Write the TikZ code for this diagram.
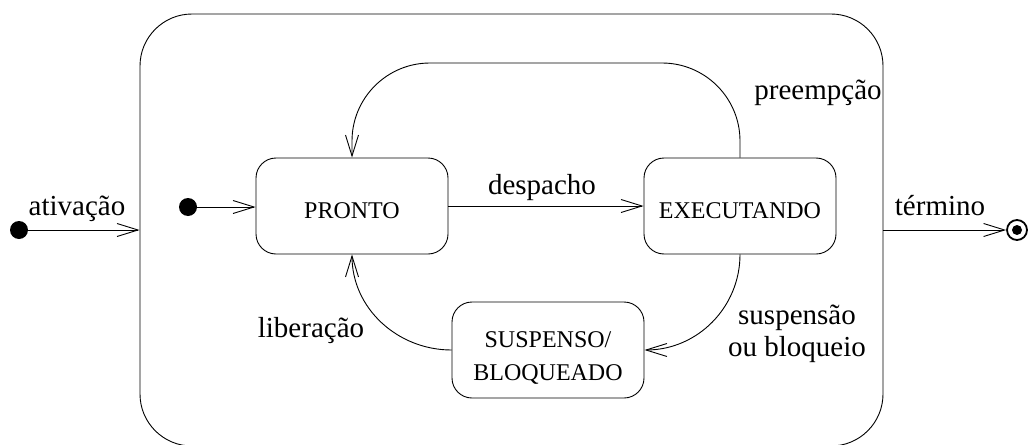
\documentclass[tikz,border=0pt]{standalone}
\usepackage{fontspec}
\setmainfont{Liberation Serif}
\usetikzlibrary{arrows.meta}
\begin{document}
\begin{tikzpicture}[x=1pt,y=-1pt,
  line width=0.9pt,
  state/.style={draw, rounded corners=20pt, minimum width=192pt, minimum height=96pt,
    inner sep=0pt, text height=24pt, text depth=0pt, font=\fontsize{24}{33}\selectfont},
  lbl/.style={font=\fontsize{29}{32}\selectfont, inner sep=0pt},
  trans/.style={-{Straight Barb[length=21pt,width=13pt]}},
  dot/.style={circle, fill=black, inner sep=0pt, minimum size=18pt}]
\useasboundingbox (0,0) rectangle (1032,444);

% composite state
\node[draw, rounded corners=52pt, minimum width=743pt, minimum height=432pt, inner sep=0pt]
  (sys) at (511.5,230) {};

% inner states
\node[state] (pronto) at (352,206) {PRONTO};
\node[state] (exec)   at (740,206) {EXECUTANDO};
\node[state, text height=20pt, text depth=26pt] (susp) at (548,350)
  {\begin{tabular}[t]{@{}c@{}}SUSPENSO/\\BLOQUEADO\end{tabular}};

% pseudo-states
\node[dot] (start) at (19,230) {};
\node[dot] (init)  at (188,207) {};
\node[circle, draw, line width=1.8pt, minimum size=20pt, inner sep=0pt] (fim) at (1017,230) {};
\node[circle, fill=black, minimum size=10pt, inner sep=0pt] (fimc) at (fim) {};
\coordinate (topo) at (0,63);

% transitions
\draw[trans] (start) -- (sys.west);
\draw[trans] (sys.east) -- (fim);
\draw[trans] (init) -- (pronto.west |- init);
\draw[trans] (pronto) -- (exec);
\draw[trans, rounded corners=78pt] (exec.north) |- (topo -| pronto.north) -- (pronto.north);
\draw[trans] (exec.south) to[out=-90,in=0] (susp.east);
\draw[trans] (susp.west) to[out=180,in=-90] (pronto.south);

% labels
\node[lbl, anchor=base] (lativ) at (77,215) {ativação};
\node[lbl, anchor=base] (lterm) at (940,215) {término};
\node[lbl, anchor=base] (ldesp) at (542,194) {despacho};
\node[lbl, anchor=base] (lpree) at (818,99) {preempção};
\node[lbl, anchor=base] (llib)  at (311,337) {liberação};
\node[lbl, align=center] (lsusp) at (797,334) {suspensão\\ou bloqueio};
\end{tikzpicture}
\end{document}
